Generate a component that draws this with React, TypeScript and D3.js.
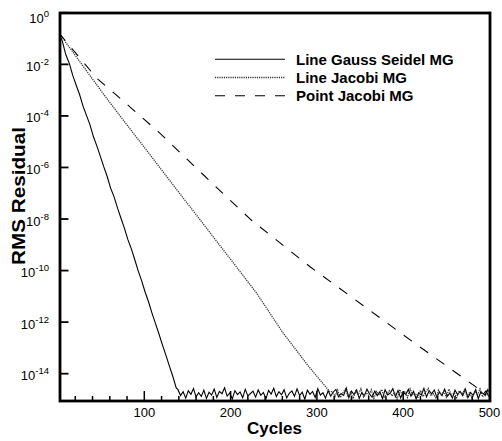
import React from 'react';
import * as d3 from 'd3';

// ---- data (log10 of RMS residual) ----
const gsStart = 1;
const gsStep = 4;
const gsDecay = [
  -0.78, -1.1, -1.62, -1.95, -2.42, -2.8, -3.17, -3.62, -3.98, -4.34,
  -4.8, -5.16, -5.56, -5.97, -6.35, -6.8, -7.14, -7.58, -7.97, -8.36,
  -8.8, -9.16, -9.58, -10.02, -10.4, -10.84, -11.22, -11.66, -12.06, -12.46,
  -12.88, -13.28, -13.7, -14.1, -14.55,
];
const floorStep = 3;
const gsFloorStart = 139;
const gsFloor = [
  -14.62, -14.85, -14.7, -14.95, -14.66, -14.8, -14.58, -14.9, -14.74, -14.88,
  -14.64, -14.96, -14.72, -14.83, -14.6, -14.92, -14.69, -14.78, -14.55, -14.87,
  -14.75, -14.98, -14.66, -14.81, -14.71, -14.93, -14.61, -14.86, -14.77, -14.68,
  -14.91, -14.63, -14.84, -14.73, -14.97, -14.65, -14.79, -14.57, -14.89, -14.7,
  -14.82, -14.62, -14.94, -14.76, -14.67, -14.88, -14.59, -14.85, -14.72, -14.99,
  -14.64, -14.8, -14.69, -14.92, -14.58, -14.83, -14.74, -14.95, -14.66, -14.87,
  -14.71, -14.61, -14.9, -14.77, -14.84, -14.56, -14.93, -14.68, -14.81, -14.63,
  -14.96, -14.73, -14.86, -14.6, -14.79, -14.91, -14.67, -14.85, -14.7, -14.97,
  -14.62, -14.82, -14.75, -14.58, -14.89, -14.65, -14.94, -14.72, -14.8, -14.61,
  -14.87, -14.69, -14.98, -14.74, -14.83, -14.57, -14.9, -14.66, -14.78, -14.63,
  -14.92, -14.71, -14.85, -14.6, -14.88, -14.76, -14.95, -14.64, -14.81, -14.69,
  -14.86, -14.59, -14.93, -14.73, -14.84, -14.62, -14.97, -14.7, -14.79, -14.66,
  -14.88,
];

const ljCycles = [1, 20, 40, 58, 80, 100, 130, 160, 190, 230, 260, 290, 315];
const ljDecay = [-0.78, -1.65, -2.57, -3.39, -4.35, -5.22, -6.53, -7.83, -9.13, -10.87, -12.38, -13.7, -14.7];
const ljFloorStart = 318;
const ljFloor = [
  -14.7, -14.88, -14.64, -14.93, -14.75, -14.6, -14.86, -14.72, -14.97, -14.67,
  -14.82, -14.58, -14.9, -14.74, -14.85, -14.63, -14.95, -14.69, -14.8, -14.61,
  -14.91, -14.77, -14.66, -14.87, -14.73, -14.99, -14.62, -14.84, -14.7, -14.92,
  -14.59, -14.81, -14.76, -14.94, -14.65, -14.89, -14.71, -14.57, -14.86, -14.78,
  -14.96, -14.64, -14.83, -14.68, -14.91, -14.6, -14.85, -14.74, -14.93, -14.66,
  -14.8, -14.62, -14.88, -14.72, -14.98, -14.67, -14.84, -14.59, -14.9, -14.75,
  -14.82,
];

const pjCycles = [1, 45, 81, 118, 187, 224, 292, 413, 492, 495, 498, 500];
const pjDecay = [-0.78, -2.54, -3.58, -4.67, -6.88, -8.04, -9.85, -12.81, -14.7, -14.85, -14.62, -14.8];

const seriesNames = ['Line Gauss Seidel MG', 'Line Jacobi MG', 'Point Jacobi MG'];
const xMajorTicks = [100, 200, 300, 400, 500];
const xMinorTicks = d3.range(20, 500, 20).filter((v) => v % 100 !== 0);
const yTickExps = [0, -2, -4, -6, -8, -10, -12, -14];

const W = 502;
const H = 441;
const L = 60;
const R = 490;
const T = 13;
const B = 401;

const FONT = '"Liberation Sans", Arial, Helvetica, sans-serif';

export default function App() {
  const x = d3.scaleLinear().domain([0, 500]).range([58, 489.5]);
  const y = d3.scaleLog().domain([Math.pow(10, -15.06), 1]).range([401, 12.8]);

  const gsPts: [number, number][] = [
    ...gsDecay.map((e, i) => [gsStart + i * gsStep, e] as [number, number]),
    ...gsFloor.map((e, i) => [gsFloorStart + i * floorStep, e] as [number, number]),
  ];
  const ljPts: [number, number][] = [
    ...ljDecay.map((e, i) => [ljCycles[i], e] as [number, number]),
    ...ljFloor.map((e, i) => [ljFloorStart + i * floorStep, e] as [number, number]),
  ];
  const pjPts: [number, number][] = pjDecay.map((e, i) => [pjCycles[i], e] as [number, number]);

  const line = d3
    .line<[number, number]>()
    .x((d) => x(d[0]))
    .y((d) => y(Math.pow(10, d[1])));

  const styles = [
    { stroke: '#000', dash: undefined as string | undefined, width: 1.1 },
    { stroke: '#333', dash: '1.2 1', width: 1.3 },
    { stroke: '#000', dash: '10 10', width: 1.1 },
  ];
  const data = [gsPts, ljPts, pjPts];

  return (
    <svg
      width={W}
      height={H}
      style={{ position: 'absolute', left: 0, top: 0, background: '#fff' }}
      fontFamily={FONT}
    >
      <defs>
        <clipPath id="plotclip">
          <rect x={L} y={T} width={R - L} height={B - T} />
        </clipPath>
      </defs>
      <g clipPath="url(#plotclip)">
        {data.map((pts, i) => (
          <path
            key={i}
            d={line(pts) || ''}
            fill="none"
            stroke={styles[i].stroke}
            strokeWidth={styles[i].width}
            strokeDasharray={styles[i].dash}
          />
        ))}
      </g>

      {/* x ticks */}
      {xMinorTicks.map((t) => (
        <line key={'xm' + t} x1={x(t)} x2={x(t)} y1={B} y2={B - 5} stroke="#000" strokeWidth={1.5} />
      ))}
      {xMajorTicks.map((t) => (
        <line key={'xM' + t} x1={x(t)} x2={x(t)} y1={B} y2={B - 10} stroke="#000" strokeWidth={1.5} />
      ))}
      {xMajorTicks.map((t) => (
        <text key={'xl' + t} x={x(t)} y={416.7} fontSize={13} textAnchor="middle">
          {t}
        </text>
      ))}

      {/* y ticks */}
      {yTickExps.map((e) => (
        <line key={'yt' + e} x1={L} x2={68.5} y1={y(Math.pow(10, e))} y2={y(Math.pow(10, e))} stroke="#000" strokeWidth={1.8} />
      ))}
      {yTickExps.map((e) => {
        const ty = y(Math.pow(10, e));
        const base = Math.max(ty + 6.5, 22.5);
        return (
          <text key={'yl' + e} x={49} y={base} fontSize={13} textAnchor="end">
            <tspan>10</tspan>
            <tspan fontSize={9.5} dy={-6}>{e === 0 ? '0' : '-' + Math.abs(e)}</tspan>
          </text>
        );
      })}

      {/* frame */}
      <rect x={L} y={T} width={R - L} height={B - T} fill="none" stroke="#000" strokeWidth={2.8} />

      {/* axis titles */}
      <text x={274.5} y={434.3} fontSize={17} fontWeight="bold" textAnchor="middle">
        Cycles
      </text>
      <text
        transform="translate(25,196) rotate(-90)"
        fontSize={19}
        fontWeight="bold"
        textAnchor="middle"
        textLength={138}
        lengthAdjust="spacingAndGlyphs"
      >
        RMS Residual
      </text>

      {/* legend */}
      {seriesNames.map((name, i) => {
        const ly = 59.3 + i * 18.2;
        return (
          <g key={name}>
            <line
              x1={215}
              x2={285}
              y1={ly}
              y2={ly}
              stroke={styles[i].stroke}
              strokeWidth={styles[i].width}
              strokeDasharray={styles[i].dash}
            />
            <text x={296} y={ly + 5.5} fontSize={15} fontWeight="bold">
              {name}
            </text>
          </g>
        );
      })}
    </svg>
  );
}
